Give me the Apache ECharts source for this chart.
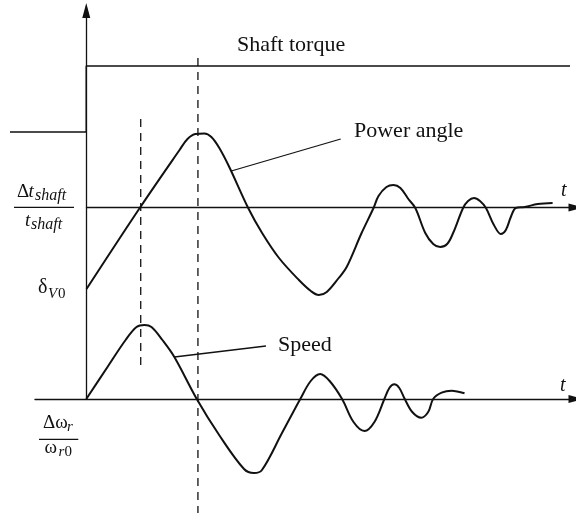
<!DOCTYPE html>
<html>
<head>
<meta charset="utf-8">
<script src="https://cdn.jsdelivr.net/npm/echarts@6/dist/echarts.min.js"></script>
<style>
  html, body { margin: 0; padding: 0; background: #fff; }
  #chart { width: 576px; height: 514px; }
</style>
</head>
<body>
<div id="chart"></div>
<script>
// Shaft torque step (time, torque)
const torqueT = [-1.53, 0, 0, 9.72];
const torqueV = [0.755, 0.755, 1.415, 1.415];

// Power angle response (time, deviation about the reference line)
const angleT = [0, 1.07, 1.87, 2.03, 2.19, 2.37, 2.51, 2.67, 2.87, 3.25, 3.53, 3.87, 4.27, 4.51, 4.67, 4.83, 5.07, 5.23, 5.53, 5.77, 5.87, 6.03, 6.17, 6.31, 6.47, 6.61, 6.81, 6.97, 7.11, 7.25, 7.37, 7.57, 7.67, 7.79, 7.91, 8.03, 8.19, 8.33, 8.43, 8.53, 8.63, 8.81, 9.07, 9.37];
const angleV = [-0.815, -0.005, 0.575, 0.685, 0.735, 0.74, 0.705, 0.595, 0.405, -0.005, -0.255, -0.505, -0.725, -0.835, -0.875, -0.845, -0.705, -0.595, -0.255, -0.005, 0.115, 0.205, 0.225, 0.195, 0.085, -0.005, -0.255, -0.365, -0.395, -0.365, -0.255, -0.005, 0.065, 0.095, 0.065, -0.005, -0.175, -0.265, -0.225, -0.095, -0.005, 0.005, 0.035, 0.045];

// Rotor speed deviation (time, Δω/ω0)
const speedT = [0, 0.43, 0.79, 1.01, 1.17, 1.31, 1.53, 1.77, 2.22, 2.67, 3.17, 3.37, 3.53, 3.93, 4.30, 4.51, 4.70, 4.89, 5.14, 5.37, 5.59, 5.79, 5.99, 6.09, 6.19, 6.29, 6.40, 6.55, 6.73, 6.87, 6.97, 7.14, 7.34, 7.60];
const speedV = [0, 0.323, 0.59, 0.72, 0.74, 0.72, 0.59, 0.42, 0, -0.36, -0.70, -0.74, -0.71, -0.343, 0, 0.18, 0.25, 0.18, 0, -0.23, -0.32, -0.23, 0, 0.11, 0.147, 0.11, 0, -0.13, -0.187, -0.13, 0, 0.063, 0.083, 0.057];

// Dashed time markers (speed peak, speed zero crossing)
const markerT = [1.09, 2.24];
const markerTop = [0.885, 1.495];
const markerBottom = [-1.625, -3.055];

// Callout leaders: [from curve, to label]
const angleLeaderT = [2.91, 5.11];
const angleLeaderV = [0.365, 0.685];
const speedLeaderT = [1.77, 3.61];
const speedLeaderV = [0.42, 0.53];

const INK = '#111';
const SERIF = '"Liberation Serif", "DejaVu Serif", serif';

function pairs(xs, ys) { return xs.map((x, i) => [x, ys[i]]); }

function plainLine(name, data, grid, width, extra) {
  return Object.assign({
    name: name, type: 'line', xAxisIndex: grid, yAxisIndex: grid,
    data: data, symbol: 'none', clip: false, silent: true,
    lineStyle: { color: INK, width: width }
  }, extra || {});
}

function hiddenAxis(extra) {
  return Object.assign({
    type: 'value', axisTick: { show: false }, axisLabel: { show: false },
    splitLine: { show: false }
  }, extra);
}

const arrowLine = {
  show: true, onZero: true, symbol: ['none', 'triangle'], symbolSize: [8, 15],
  lineStyle: { color: INK, width: 1.3 }
};

function txt(s, x, base, size, italic) {
  return {
    type: 'text', x: x, y: base - 0.34 * size, silent: true,
    style: {
      text: s, fontSize: size, fontFamily: SERIF, fontStyle: italic ? 'italic' : 'normal',
      fill: INK, align: 'left', verticalAlign: 'middle'
    }
  };
}
function bar(x1, x2, y) {
  return { type: 'line', silent: true, shape: { x1: x1, y1: y, x2: x2, y2: y },
           style: { stroke: INK, lineWidth: 1.3 } };
}

const series = [
  plainLine('Shaft torque', pairs(torqueT, torqueV), 2, 1.3),
  plainLine('Power angle', pairs(angleT, angleV), 0, 2, { smooth: 0.35 }),
  plainLine('Speed', pairs(speedT, speedV), 1, 2, { smooth: 0.35 }),
  plainLine('angle-leader', pairs(angleLeaderT, angleLeaderV), 0, 1.3),
  plainLine('speed-leader', pairs(speedLeaderT, speedLeaderV), 1, 1.3)
];
markerT.forEach((t, i) => {
  series.push(plainLine('marker' + i, [[t, markerTop[i]], [t, markerBottom[i]]], 0, 1.3,
    { lineStyle: { color: INK, width: 1.3, type: [8, 6] } }));
});

const chart = echarts.init(document.getElementById('chart'), null, { renderer: 'canvas' });
chart.setOption({
  animation: false,
  backgroundColor: '#fff',
  grid: [
    // power angle plane, origin on the vertical axis
    { left: 86.5, top: 7.5, width: 492, height: 400 },
    // speed plane, its time axis reaching left past the origin
    { left: 35, top: 10.5, width: 543.5, height: 388.5 },
    // torque plane, same scale as the power angle plane but wider to the left
    { left: 10, top: 7.5, width: 568.5, height: 400 }
  ],
  xAxis: [
    hiddenAxis({ gridIndex: 0, min: 0, max: 9.84, axisLine: arrowLine }),
    hiddenAxis({ gridIndex: 1, min: -1.03, max: 9.84, axisLine: arrowLine }),
    hiddenAxis({ gridIndex: 2, min: -1.53, max: 9.84, axisLine: { show: false } })
  ],
  yAxis: [
    hiddenAxis({ gridIndex: 0, min: -2, max: 2, axisLine: { show: false } }),
    hiddenAxis({ gridIndex: 1, min: 0, max: 3.885, axisLine: arrowLine }),
    hiddenAxis({ gridIndex: 2, min: -2, max: 2, axisLine: { show: false } })
  ],
  series: series,
  graphic: [
    txt('Shaft torque', 237, 53, 22, false),
    txt('Power angle', 354, 139, 22, false),
    txt('Speed', 278, 353, 22, false),
    txt('t', 561, 198, 20, true),
    txt('t', 560, 393, 20, true),
    // Δt_shaft / t_shaft
    txt('Δ', 17, 198, 19, false),
    txt('t', 28.5, 198, 19, true),
    txt('shaft', 35, 201.5, 16, true),
    bar(14, 74, 207.3),
    txt('t', 25, 227, 19, true),
    txt('shaft', 31, 230.5, 16, true),
    // δ_V0
    txt('δ', 38, 295, 20, false),
    txt('V', 48, 299, 15, true),
    txt('0', 58, 299, 15, false),
    // Δω_r / ω_r0
    txt('Δω', 43, 429, 19, false),
    txt('r', 67, 432, 15, true),
    bar(39, 78.3, 439.3),
    txt('ω', 44.5, 454, 19, false),
    txt('r', 58.5, 457, 15, true),
    txt('0', 64.5, 457, 15, false)
  ]
});
</script>
</body>
</html>
